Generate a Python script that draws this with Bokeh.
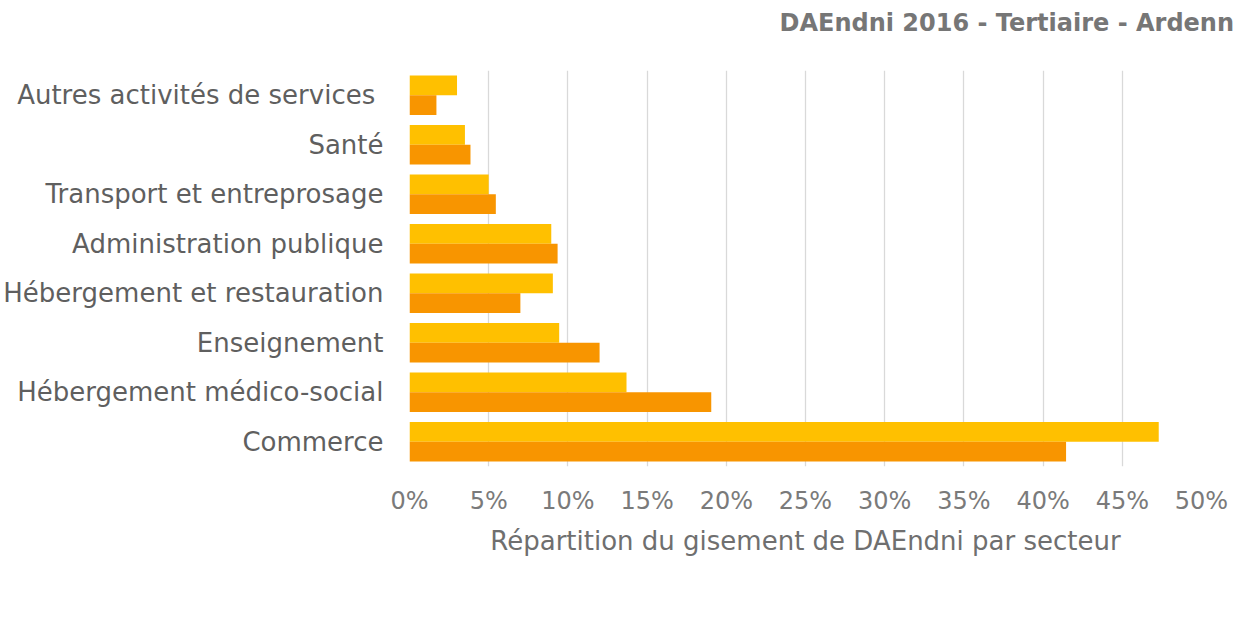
from bokeh.plotting import figure
from bokeh.layouts import column
from bokeh.models import (FactorRange, Range1d, FixedTicker, PrintfTickFormatter,
                          Legend, LegendItem, ColumnDataSource, Label)
from bokeh.transform import dodge
from bokeh.embed import file_html
from bokeh.resources import INLINE

categories = ["Autres activités de services ", "Santé", "Transport et entreprosage",
              "Administration publique", "Hébergement et restauration", "Enseignement",
              "Hébergement médico-social", "Commerce"]
grand_est = [3.0, 3.5, 5.0, 8.95, 9.05, 9.45, 13.7, 47.3]
ardennes = [1.7, 3.85, 5.45, 9.35, 7.0, 12.0, 19.05, 41.45]
series = ["Grand Est", "Ardennes"]
colors = ["#FFC000", "#F89500"]
x_ticks = [0, 5, 10, 15, 20, 25, 30, 35, 40, 45, 50]
title_text = "DAEndni 2016 - Tertiaire - Ardennes"

FONT = "DejaVu Sans"
src = ColumnDataSource(dict(cat=categories, ge=grand_est, ard=ardennes))

# ---- title strip ----
pt = figure(frame_width=1234, frame_height=44, x_range=Range1d(0, 1234), y_range=Range1d(0, 44),
            output_backend="svg", toolbar_location=None, min_border=0,
            x_axis_location=None, y_axis_location=None, title_location=None)
pt.outline_line_color = None
pt.xgrid.visible = False
pt.ygrid.visible = False
pt.add_layout(Label(x=370, y=22, text=title_text, text_font=FONT, text_font_size="24px",
                    text_font_style="bold", text_color="#767676",
                    text_baseline="middle", text_align="left"))

# ---- main chart ----
p = figure(frame_width=792, frame_height=396, y_range=FactorRange(*categories[::-1]),
           x_range=Range1d(0, 50), output_backend="svg", toolbar_location=None,
           title_location=None,
           min_border_left=409, min_border_right=33, min_border_top=26,
           min_border_bottom=100)

r1 = p.hbar(y=dodge("cat", 0.2, range=p.y_range), right="ge", left=0, height=0.4,
            source=src, fill_color=colors[0], line_color=None)
r2 = p.hbar(y=dodge("cat", -0.2, range=p.y_range), right="ard", left=0, height=0.4,
            source=src, fill_color=colors[1], line_color=None)

p.outline_line_color = None
p.ygrid.grid_line_color = None
p.xgrid.grid_line_color = "#d9d9d9"
p.xgrid.grid_line_width = 1.3

p.xaxis.ticker = FixedTicker(ticks=x_ticks)
p.xaxis.formatter = PrintfTickFormatter(format="%d%%")
p.xaxis.axis_label = "Répartition du gisement de DAEndni par secteur"
p.xaxis.axis_label_text_font = FONT
p.xaxis.axis_label_text_font_size = "26px"
p.xaxis.axis_label_text_font_style = "normal"
p.xaxis.axis_label_text_color = "#6f6f6f"
p.xaxis.axis_label_standoff = 8
p.xaxis.major_label_text_font = FONT
p.xaxis.major_label_text_font_size = "24px"
p.xaxis.major_label_text_color = "#7a7a7a"
p.xaxis.major_label_standoff = 14

for ax in (p.xaxis, p.yaxis):
    ax.axis_line_color = None
    ax.major_tick_line_color = None
    ax.minor_tick_line_color = None

p.yaxis.major_label_text_font = FONT
p.yaxis.major_label_text_font_size = "26px"
p.yaxis.major_label_text_color = "#5f5f5f"
p.yaxis.major_label_standoff = 20

# ---- legend strip (legend proxies drawn from the same data, outside the strip's view) ----
pl = figure(frame_width=1234, frame_height=60, x_range=Range1d(-20, -10),
            y_range=FactorRange(*categories[::-1]),
            output_backend="svg", toolbar_location=None, min_border=0,
            x_axis_location=None, y_axis_location=None, title_location=None)
pl.outline_line_color = None
pl.xgrid.visible = False
pl.ygrid.visible = False
l1 = pl.hbar(y="cat", right="ge", left=0, height=0.4, source=src,
             fill_color=colors[0], line_color=None)
l2 = pl.hbar(y="cat", right="ard", left=0, height=0.4, source=src,
             fill_color=colors[1], line_color=None)

legend = Legend(items=[LegendItem(label=series[0], renderers=[l1]),
                       LegendItem(label=series[1], renderers=[l2])],
                orientation="horizontal", location=(469, 0))
legend.label_text_font = FONT
legend.label_text_font_size = "25px"
legend.label_text_color = "#5f5f5f"
legend.glyph_width = 14
legend.glyph_height = 14
legend.label_standoff = 7
legend.spacing = 30
legend.border_line_color = None
legend.background_fill_alpha = 0
legend.margin = 0
legend.padding = 0
pl.add_layout(legend, "center")

layout = column(pt, p, pl, spacing=0)
open("out.html", "w").write(file_html(layout, INLINE))
